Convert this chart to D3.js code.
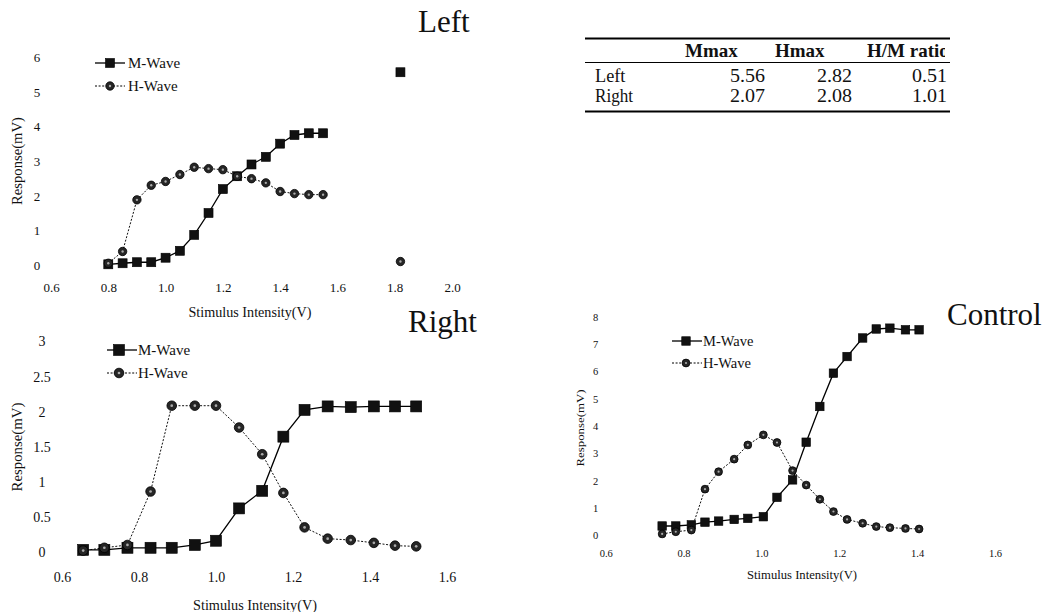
<!DOCTYPE html>
<html><head><meta charset="utf-8">
<script src="https://cdn.jsdelivr.net/npm/d3@7"></script>
<style>
body{margin:0;background:#fff;}
svg{display:block;font-family:"Liberation Serif","Times New Roman",serif;}
</style></head><body>
<svg id="fig" width="1047" height="612"></svg>
<script>
// ---- Left leg recruitment curve (stimulus in V, response in mV) ----
const leftVolts = [0.80,0.85,0.90,0.95,1.00,1.05,1.10,1.15,1.20,1.25,1.30,1.35,1.40,1.45,1.50,1.55];
const leftM = [0.02,0.05,0.08,0.08,0.21,0.41,0.87,1.50,2.19,2.56,2.90,3.12,3.50,3.75,3.80,3.80];
const leftH = [0.05,0.39,1.88,2.30,2.41,2.61,2.82,2.78,2.75,2.56,2.49,2.37,2.12,2.06,2.03,2.03];
const leftExtraVolts = [1.82];
const leftExtraM = [5.56];
const leftExtraH = [0.10];
const leftXTicks = [0.6,0.8,1.0,1.2,1.4,1.6,1.8,2.0];
const leftYTicks = [0,1,2,3,4,5,6];

// ---- Right leg recruitment curve ----
const rightVolts = [0.655,0.71,0.77,0.83,0.885,0.945,1.00,1.06,1.12,1.175,1.23,1.29,1.35,1.41,1.465,1.52];
const rightM = [0.03,0.03,0.06,0.06,0.06,0.10,0.16,0.62,0.87,1.64,2.02,2.07,2.06,2.07,2.07,2.07];
const rightH = [0.02,0.06,0.10,0.86,2.08,2.08,2.08,1.77,1.39,0.84,0.35,0.19,0.17,0.13,0.09,0.08];
const rightXTicks = [0.6,0.8,1.0,1.2,1.4,1.6];
const rightYTicks = [0,0.5,1,1.5,2,2.5,3];

// ---- Control recruitment curve ----
const controlVolts = [0.745,0.78,0.82,0.855,0.89,0.93,0.965,1.005,1.04,1.08,1.115,1.15,1.185,1.22,1.26,1.295,1.33,1.37,1.405];
const controlM = [0.33,0.33,0.37,0.47,0.51,0.57,0.61,0.67,1.38,2.02,3.40,4.71,5.93,6.54,7.22,7.55,7.58,7.52,7.52];
const controlH = [0.04,0.12,0.18,1.68,2.32,2.78,3.30,3.67,3.39,2.36,1.83,1.31,0.86,0.57,0.43,0.31,0.27,0.24,0.22];
const controlXTicks = [0.6,0.8,1.0,1.2,1.4,1.6];
const controlYTicks = [0,1,2,3,4,5,6,7,8];

// ---- Summary table ----
const tableHeaders = ["Mmax","Hmax","H/M ratio"];
const tableSides = ["Left","Right"];
const mmaxValues = [5.56,2.07];
const hmaxValues = [2.82,2.08];
const ratioValues = [0.51,1.01];

const seriesNames = ["M-Wave","H-Wave"];

const svg = d3.select("#fig");

function squareMark(g, x, y, s) {
  g.append("rect").attr("x", x - s/2).attr("y", y - s/2)
    .attr("width", s).attr("height", s).attr("fill", "#111").attr("stroke", "#000").attr("stroke-width", 0.6);
}
function circleMark(g, x, y, r) {
  g.append("circle").attr("cx", x).attr("cy", y).attr("r", r)
    .attr("fill", "#262626").attr("stroke", "#000").attr("stroke-width", 0.8);
  g.append("circle").attr("cx", x).attr("cy", y).attr("r", r * 0.28).attr("fill", "#aaa");
}

function panel(cfg) {
  const g = svg.append("g");
  const x = d3.scaleLinear().domain(cfg.xDomain).range(cfg.xRange);
  const y = d3.scaleLinear().domain(cfg.yDomain).range(cfg.yRange);
  const fmtX = d3.format(".1f");

  // tick labels only (no axis lines in this figure)
  const ax = g.append("g").attr("transform", `translate(0,${cfg.xTickY})`)
    .call(d3.axisBottom(x).tickValues(cfg.xTicks).tickFormat(fmtX).tickSize(0).tickPadding(0));
  ax.select(".domain").remove();
  ax.selectAll("text").attr("dy", "0.35em").attr("y", 0)
    .attr("font-family", "Liberation Serif, serif").attr("font-size", cfg.tickFont).attr("fill", "#111");

  const ay = g.append("g").attr("transform", `translate(${cfg.yTickX},0)`)
    .call(d3.axisLeft(y).tickValues(cfg.yTicks).tickFormat(d => String(d)).tickSize(0).tickPadding(0));
  ay.select(".domain").remove();
  ay.selectAll("text").attr("x", 0).attr("dy", "0.35em").attr("text-anchor", "middle")
    .attr("font-family", "Liberation Serif, serif").attr("font-size", cfg.tickFont).attr("fill", "#111");

  const line = d3.line().x(d => x(d[0])).y(d => y(d[1]));
  const mPts = cfg.volts.map((v, i) => [v, cfg.m[i]]);
  const hPts = cfg.volts.map((v, i) => [v, cfg.h[i]]);

  g.append("path").attr("d", line(hPts)).attr("fill", "none").attr("stroke", "#111")
    .attr("stroke-width", 1).attr("stroke-dasharray", "2,1.6");
  g.append("path").attr("d", line(mPts)).attr("fill", "none").attr("stroke", "#000")
    .attr("stroke-width", 1.3);

  mPts.forEach(p => squareMark(g, x(p[0]), y(p[1]), cfg.sq));
  hPts.forEach(p => circleMark(g, x(p[0]), y(p[1]), cfg.cr));
  if (cfg.extraVolts) {
    cfg.extraVolts.forEach((v, i) => {
      squareMark(g, x(v), y(cfg.extraM[i]), cfg.sq);
      circleMark(g, x(v), y(cfg.extraH[i]), cfg.cr);
    });
  }

  // legend
  seriesNames.forEach((name, i) => {
    const ly = cfg.legend.rows[i];
    const l = g.append("line").attr("x1", cfg.legend.x0).attr("x2", cfg.legend.x1)
      .attr("y1", ly).attr("y2", ly).attr("stroke", "#000").attr("stroke-width", i === 0 ? 1.3 : 1);
    if (i === 1) l.attr("stroke-dasharray", "2,1.6");
    if (i === 0) squareMark(g, cfg.legend.mx, ly, cfg.sq);
    else circleMark(g, cfg.legend.mx, ly, cfg.cr);
    g.append("text").attr("x", cfg.legend.tx).attr("y", ly).attr("dy", "0.35em")
      .attr("font-size", cfg.legend.font).attr("fill", "#111").text(name);
  });

  // axis titles
  g.append("text").attr("transform", `translate(${cfg.yTitle.x},${cfg.yTitle.y}) rotate(-90)`)
    .attr("text-anchor", "middle").attr("dy", "0.35em").attr("font-size", cfg.yTitle.font)
    .attr("textLength", cfg.yTitle.len).attr("lengthAdjust", "spacingAndGlyphs")
    .attr("fill", "#111").text("Response(mV)");
  g.append("text").attr("x", cfg.xTitle.x).attr("y", cfg.xTitle.y)
    .attr("text-anchor", "middle").attr("dy", "0.35em").attr("font-size", cfg.xTitle.font)
    .attr("textLength", cfg.xTitle.len).attr("lengthAdjust", "spacingAndGlyphs")
    .attr("fill", "#111").text("Stimulus Intensity(V)");

  // panel title
  g.append("text").attr("x", cfg.title.x).attr("y", cfg.title.y)
    .attr("font-size", 31).attr("fill", "#111").text(cfg.title.text);
}

panel({
  xDomain: [0.6, 2.0], xRange: [51, 452], yDomain: [0, 6], yRange: [265, 57],
  xTicks: leftXTicks, yTicks: leftYTicks, xTickY: 287, yTickX: 37, tickFont: 13,
  volts: leftVolts, m: leftM, h: leftH,
  extraVolts: leftExtraVolts, extraM: leftExtraM, extraH: leftExtraH,
  sq: 9, cr: 4.2,
  legend: {x0: 95, x1: 125, mx: 110, tx: 128, rows: [63, 86], font: 15},
  yTitle: {x: 17, y: 161, font: 14, len: 88},
  xTitle: {x: 250, y: 312, font: 14, len: 123},
  title: {x: 418, y: 32, text: "Left"}
});

panel({
  xDomain: [0.6, 1.6], xRange: [62, 447], yDomain: [0, 3], yRange: [552, 341],
  xTicks: rightXTicks, yTicks: rightYTicks, xTickY: 577, yTickX: 42, tickFont: 14,
  volts: rightVolts, m: rightM, h: rightH,
  sq: 11, cr: 4.8,
  legend: {x0: 107, x1: 137, mx: 119, tx: 138, rows: [350, 373], font: 15},
  yTitle: {x: 17, y: 447, font: 14, len: 89},
  xTitle: {x: 255, y: 605, font: 14, len: 124},
  title: {x: 408, y: 332, text: "Right"}
});

panel({
  xDomain: [0.6, 1.6], xRange: [605.7, 995], yDomain: [0, 8], yRange: [535, 316.7],
  xTicks: controlXTicks, yTicks: controlYTicks, xTickY: 553, yTickX: 595.5, tickFont: 10.5,
  volts: controlVolts, m: controlM, h: controlH,
  sq: 8.5, cr: 3.9,
  legend: {x0: 672, x1: 702, mx: 686, tx: 703, rows: [341, 363], font: 14.5},
  yTitle: {x: 580, y: 428, font: 11, len: 77},
  xTitle: {x: 802, y: 575, font: 12, len: 110},
  title: {x: 947, y: 325, text: "Control"}
});

// ---- summary table (its right edge is cut off) ----
const defs = svg.append("defs");
defs.append("clipPath").attr("id", "tblclip")
  .append("rect").attr("x", 0).attr("y", 0).attr("width", 950).attr("height", 140);
defs.append("clipPath").attr("id", "hdrclip")
  .append("rect").attr("x", 0).attr("y", 0).attr("width", 945).attr("height", 140);
const tbl = svg.append("g").attr("clip-path", "url(#tblclip)");
const tblLeft = 585, tblRight = 950;
tbl.append("line").attr("x1", tblLeft).attr("x2", tblRight).attr("y1", 38.5).attr("y2", 38.5)
  .attr("stroke", "#000").attr("stroke-width", 2);
tbl.append("line").attr("x1", tblLeft).attr("x2", tblRight).attr("y1", 62.5).attr("y2", 62.5)
  .attr("stroke", "#000").attr("stroke-width", 1);
tbl.append("line").attr("x1", tblLeft).attr("x2", tblRight).attr("y1", 111.5).attr("y2", 111.5)
  .attr("stroke", "#000").attr("stroke-width", 2);

const hdr = svg.append("g").attr("clip-path", "url(#hdrclip)");
const headerX = [685, 775, 867];
tableHeaders.forEach((h, i) => {
  hdr.append("text").attr("x", headerX[i]).attr("y", 57).attr("font-size", 19)
    .attr("font-weight", "bold").attr("fill", "#111").text(h);
});
const rowY = [82, 102];
const colRight = [765, 852, 947];
const fmt2 = d3.format(".2f");
tableSides.forEach((side, r) => {
  tbl.append("text").attr("x", 595).attr("y", rowY[r]).attr("font-size", 18)
    .attr("textLength", side.length * 7.6).attr("lengthAdjust", "spacingAndGlyphs")
    .attr("fill", "#111").text(side);
  [mmaxValues[r], hmaxValues[r], ratioValues[r]].forEach((v, c) => {
    tbl.append("text").attr("x", colRight[c]).attr("y", rowY[r]).attr("text-anchor", "end")
      .attr("font-size", 18).attr("textLength", 35).attr("lengthAdjust", "spacingAndGlyphs")
      .attr("fill", "#111").text(fmt2(v));
  });
});
</script>
</body></html>
